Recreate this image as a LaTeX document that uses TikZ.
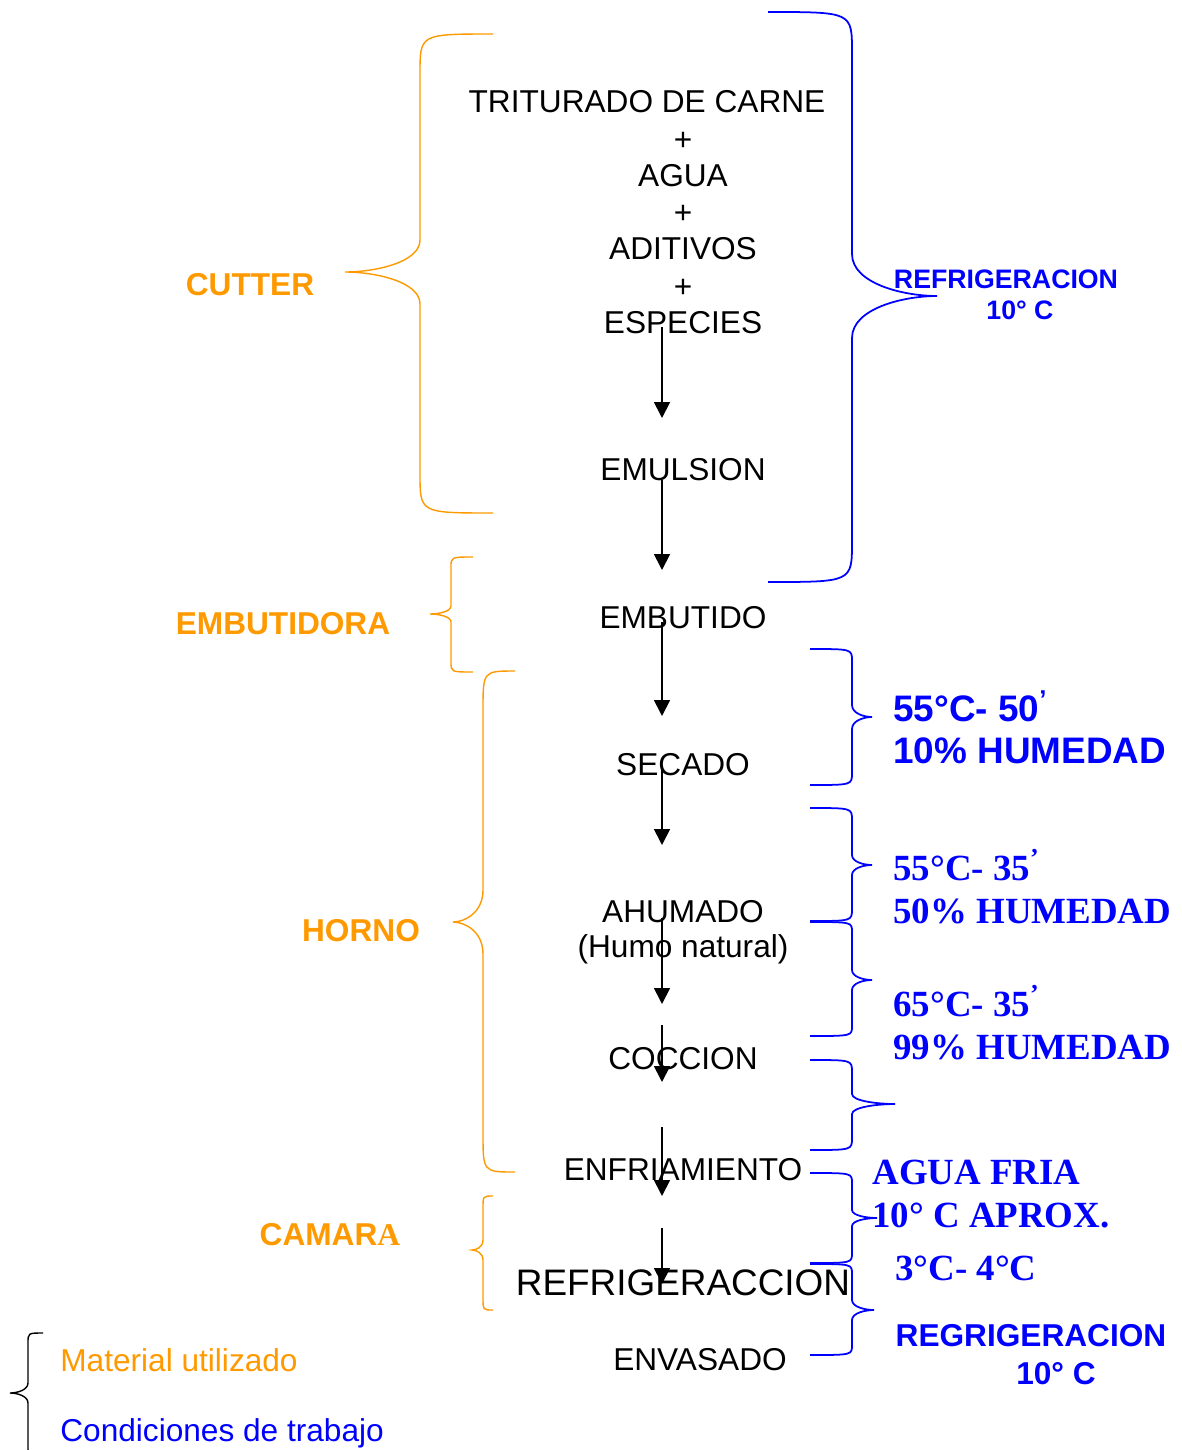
\documentclass[tikz,border=0pt]{standalone}
\usepackage{fontspec}
\usepackage{xcolor}
\usepackage{tikz}
\usetikzlibrary{arrows.meta, positioning, calc}
\setmainfont{Liberation Sans}
\newfontfamily\timesf{Liberation Serif}
\definecolor{matorange}{HTML}{FF9900}
\definecolor{condblue}{HTML}{0000FF}

% curly brace: style, end x, spine x, tip x, top y, tip y, bottom y, corner, tip
\newcommand{\curlybr}[9]{%
  \draw[#1] (#2,#5) .. controls (#3,#5) and (#3,#5) .. (#3,{#5+#8})
    -- (#3,{#6-#9})
    .. controls (#3,{#6-0.3*#9}) and ({0.6*#4+0.4*#3},#6) .. (#4,#6)
    .. controls ({0.6*#4+0.4*#3},#6) and (#3,{#6+0.3*#9}) .. (#3,{#6+#9})
    -- (#3,{#7-#8})
    .. controls (#3,#7) and (#3,#7) .. (#2,#7);}

\begin{document}
\begin{tikzpicture}[x=0.02cm, y=-0.02cm,
    step text/.style={font=\fontsize{18}{22}\selectfont, inner sep=0pt},
    machine/.style={font=\fontsize{18}{22}\selectfont\bfseries, text=matorange, inner sep=0pt},
    small cond/.style={font=\fontsize{15.2}{18}\selectfont\bfseries, text=condblue, inner sep=0pt},
    cond/.style={font=\fontsize{21}{25}\selectfont\bfseries, text=condblue, inner sep=0pt, anchor=west},
    condt/.style={font=\fontsize{21}{25}\selectfont\timesf\bfseries, text=condblue, inner sep=0pt, anchor=west},
    flow/.style={-{Triangle[length=0.32cm,width=0.32cm]}, line width=1pt},
    obrace/.style={matorange, line width=0.8pt},
    bbrace/.style={condblue, line width=1pt}]
  \useasboundingbox (0,0) rectangle (1181,1450);

  % Process steps
  \node[step text] (carne) at (647,102) {TRITURADO DE CARNE};
  \node[step text] (plus1) at (683,141) {+};
  \node[step text] (agua) at (683,176) {AGUA};
  \node[step text] (plus2) at (683,214) {+};
  \node[step text] (aditivos) at (683,249) {ADITIVOS};
  \node[step text] (plus3) at (683,288) {+};
  \node[step text] (especies) at (683,323) {ESPECIES};
  \node[step text] (emulsion) at (683,470) {EMULSION};
  \node[step text] (embutido) at (683,618) {EMBUTIDO};
  \node[step text] (secado) at (683,765) {SECADO};
  \node[step text] (ahumado) at (683,912) {AHUMADO};
  \node[step text] (humo) at (683,949) {(Humo natural)};
  \node[step text] (coccion) at (683,1059) {COCCION};
  \node[step text] (enfriam) at (683,1170) {ENFRIAMIENTO};
  \node[step text, font=\fontsize{21}{25}\selectfont] (refrig) at (683,1283) {REFRIGERACCION};
  \node[step text] (envasado) at (700,1360) {ENVASADO};

  % Arrows
  \foreach \n/\a/\b in {1/327/418, 2/480/570, 3/622/716, 4/770/845, 5/918/1004, 6/1025/1082, 7/1127/1196, 8/1228/1284} {
    \coordinate (from\n) at (662,\a);
    \coordinate (to\n) at (662,\b);
    \draw[flow] (from\n) -- (to\n);
  }

  % Material braces
  \curlybr{obrace}{493}{420}{345}{34}{272}{513}{39}{32}
  \curlybr{obrace}{473}{451}{430}{557}{614}{672}{10}{8}
  \curlybr{obrace}{515}{483}{453}{671}{922}{1172}{39}{32}
  \curlybr{obrace}{493}{483}{472}{1196}{1250}{1310}{12}{10}

  % Machines
  \node[machine] (cutter) at (250,285) {CUTTER};
  \node[machine] (embutidora) at (283,624) {EMBUTIDORA};
  \node[machine] (horno) at (361,931) {HORNO};
  \node[machine] (camara) at (330,1235) {CAMAR{\timesf A}};

  % Condition braces
  \curlybr{bbrace}{768}{852}{937}{12}{296}{582}{40}{42}
  \curlybr{bbrace}{810}{852}{872}{649}{717}{785}{12}{12}
  \curlybr{bbrace}{810}{852}{872}{808}{865}{921}{12}{10}
  \curlybr{bbrace}{810}{852}{872}{922}{980}{1036}{10}{10}
  \curlybr{bbrace}{810}{852}{895}{1060}{1104}{1150}{12}{10}
  \curlybr{bbrace}{810}{852}{877}{1173}{1218}{1263}{10}{8}
  \curlybr{bbrace}{810}{852}{874}{1264}{1310}{1355}{10}{10}

  % Conditions
  \node[small cond] (refr1) at (1006,279) {REFRIGERACION};
  \node[small cond] (refr2) at (1020,310) {10° C};
  \node[cond] (sec1) at (893,706) {55°C- 50\textsuperscript{’}};
  \node[cond] (sec2) at (893,751) {10\% HUMEDAD};
  \node[condt] (ahu1) at (893,865) {55°C- 35\textsuperscript{’}};
  \node[condt] (ahu2) at (893,911) {50\% HUMEDAD};
  \node[condt] (coc1) at (893,1001) {65°C- 35\textsuperscript{’}};
  \node[condt] (coc2) at (893,1047) {99\% HUMEDAD};
  \node[condt] (agua1) at (872,1172) {AGUA FRIA};
  \node[condt] (agua2) at (872,1215) {10° C APROX.};
  \node[condt] (camt) at (895,1268) {3°C- 4°C};
  \node[font=\fontsize{18}{22}\selectfont\bfseries, text=condblue, inner sep=0pt] (regr1) at (1031,1336) {REGRIGERACION};
  \node[font=\fontsize{18}{22}\selectfont\bfseries, text=condblue, inner sep=0pt] (regr2) at (1056,1374) {10° C};

  % Legend
  \curlybr{black, line width=0.8pt}{43}{28}{10}{1333}{1393}{1456}{10}{10}
  \node[font=\fontsize{18}{22}\selectfont, text=matorange, anchor=west, inner sep=0pt] (leg1) at (60,1360) {Material utilizado};
  \node[font=\fontsize{18}{22}\selectfont, text=condblue, anchor=west, inner sep=0pt] (leg2) at (60,1433) {Condiciones de trabajo};
\end{tikzpicture}
\end{document}
